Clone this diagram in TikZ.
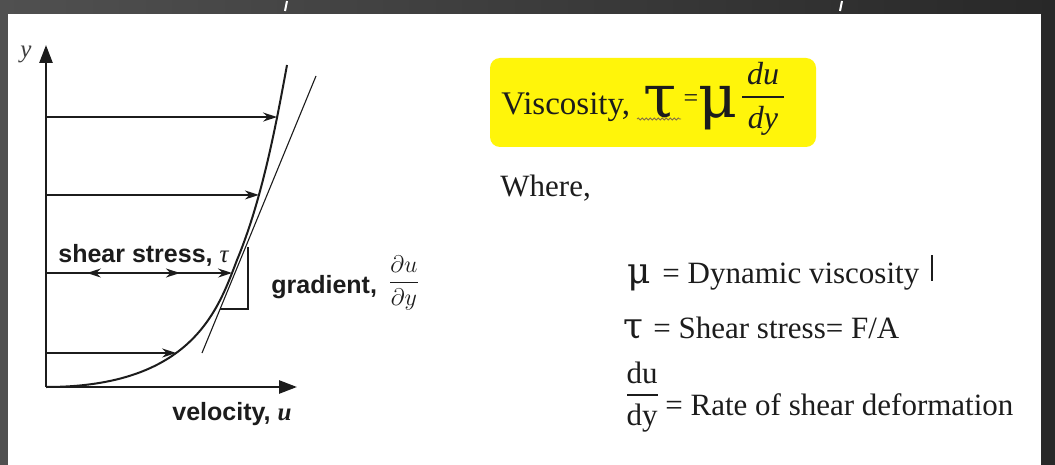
\documentclass[tikz,border=0pt]{standalone}
\usepackage{fontspec}
\setmainfont{Liberation Serif}
\setsansfont{Liberation Sans}
\newfontfamily\grk{DejaVu Serif}
\usetikzlibrary{arrows.meta, positioning, intersections, decorations.markings, decorations.pathmorphing}
\definecolor{frame}{RGB}{40,40,40}
\definecolor{framelight}{RGB}{80,80,80}
\definecolor{ink}{RGB}{28,28,28}
\definecolor{hilite}{RGB}{255,245,10}
\definecolor{squig}{RGB}{130,110,70}

\tikzset{
  axis/.style={line width=1.3pt, draw=ink, -{Triangle[length=9pt,width=6.5pt]}},
  flow/.style={line width=0.9pt, draw=ink, -{Stealth[length=7pt,width=4.5pt]}},
  profile/.style={line width=1pt, draw=ink},
  guide/.style={line width=0.55pt, draw=ink},
  lbl/.style={font=\sffamily\bfseries\fontsize{12.5}{15}\selectfont, text=ink, inner sep=0pt},
  txt/.style={font=\fontsize{15.5}{18}\selectfont, text=ink, inner sep=0pt},
  greek/.style={font=\grk\fontsize{18}{22}\selectfont, text=ink, inner sep=0pt},
  bigsym/.style={font=\grk\fontsize{30}{34}\selectfont, text=ink, inner sep=0pt},
}

\begin{document}
\begin{tikzpicture}[x=0.5pt,y=-0.5pt]
\useasboundingbox (0,0) rectangle (1055,465);
% screenshot frame
\shade[left color=framelight, right color=frame] (0,0) rectangle (1055,465);
\fill[white] (8,14) rectangle (1041,465);
\draw[white, line width=1pt] (287,1) -- (285,11);
\draw[white, line width=1pt] (842,1) -- (840,11);

% velocity profile
\coordinate (O) at (46,387);
\coordinate (ytip) at (46,45);
\coordinate (xtip) at (297,387);
\coordinate (T) at (237,260);
\coordinate (E) at (287,65);
\draw[profile, name path=profile] (O) .. controls (192,387) and (218,310) .. (T)
  .. controls (262,200) and (276,125) .. (E);

\foreach \r/\yy in {1/117, 2/195, 3/273, 4/353} {
  \coordinate (base\r) at (46,\yy);
  \path[name path=row\r] (46,\yy) -- (400,\yy);
  \path[name intersections={of=profile and row\r, by=hit\r}];
}
\draw[flow] (base1) -- (hit1);
\draw[flow] (base2) -- (hit2);
\draw[flow, postaction={decorate}, decoration={markings,
  mark=at position 0.22 with {\arrowreversed{Stealth[length=7pt,width=4.5pt]}},
  mark=at position 0.72 with {\arrow{Stealth[length=7pt,width=4.5pt]}}}] (base3) -- (hit3);
\draw[flow] (base4) -- (hit4);

\draw[axis] (O) -- (ytip);
\draw[axis] (O) -- (xtip);

% tangent and gradient triangle
\coordinate (tanA) at (202,353);
\coordinate (tanB) at (316,76);
\draw[guide] (tanA) -- (tanB);
\coordinate (gA) at (220,309);
\coordinate (gB) at (248,309);
\coordinate (gC) at (248,247);
\draw[guide] (gA) -- (gB) -- (gC);

\node[font=\fontsize{12.5}{15}\selectfont\itshape, text=ink!85, inner sep=0pt, anchor=base west] (ylab) at (20,58) {y};
\node[lbl, anchor=base west] (shear) at (58,262) {shear stress, {\rmfamily\mdseries\itshape τ}};
\node[lbl, anchor=base west] (vel) at (172,420) {velocity, {\rmfamily\itshape u}};
\node[lbl, anchor=base west] (grad) at (271,293) {gradient,};
\node[font=\fontsize{13}{15}\selectfont, text=ink, inner sep=0pt] (gfrac) at (404,283) {$\displaystyle\frac{\partial u}{\partial y}$};

% formula
\fill[hilite, rounded corners=5pt] (490,58) rectangle (816,147);
\node[font=\fontsize{16.5}{20}\selectfont, text=ink, inner sep=0pt, anchor=base west] (visc) at (501,115) {Viscosity,};
\draw[squig, line width=0.4pt, decorate, decoration={snake, amplitude=0.5pt, segment length=2pt}] (637,119) -- (681,119);
\node[bigsym, anchor=base west] (tauF) at (643,118) {τ};
\node[font=\fontsize{13}{15}\selectfont, text=ink, inner sep=0pt] (eqF) at (691,101) {=};
\node[bigsym, anchor=base west] (muF) at (698,118) {μ};
\node[font=\fontsize{16}{18}\selectfont\itshape, text=ink, inner sep=0pt, anchor=base] (duF) at (763,85) {du};
\draw[ink, line width=1pt] (742,97) -- (784,97);
\node[font=\fontsize{16}{18}\selectfont\itshape, text=ink, inner sep=0pt, anchor=base] (dyF) at (763,128) {dy};

\node[txt, anchor=base west] (where) at (500,197) {Where,};

% symbol list
\node[greek, anchor=base west] (mu) at (627,283) {μ};
\node[txt, anchor=base west] (dyn) at (662,283) {= Dynamic viscosity};
\draw[ink, line width=0.7pt] (932,255) -- (932,281);
\node[greek, anchor=base west] (tau) at (623,338) {τ};
\node[txt, anchor=base west] (shr) at (653,338) {= Shear stress= F/A};
\node[txt, anchor=base] (du) at (642,383) {du};
\draw[ink, line width=0.9pt] (627,395) -- (658,395);
\node[txt, anchor=base] (dy) at (642,425) {dy};
\node[txt, anchor=base west] (rate) at (665,415) {= Rate of shear deformation};
\end{tikzpicture}
\end{document}
